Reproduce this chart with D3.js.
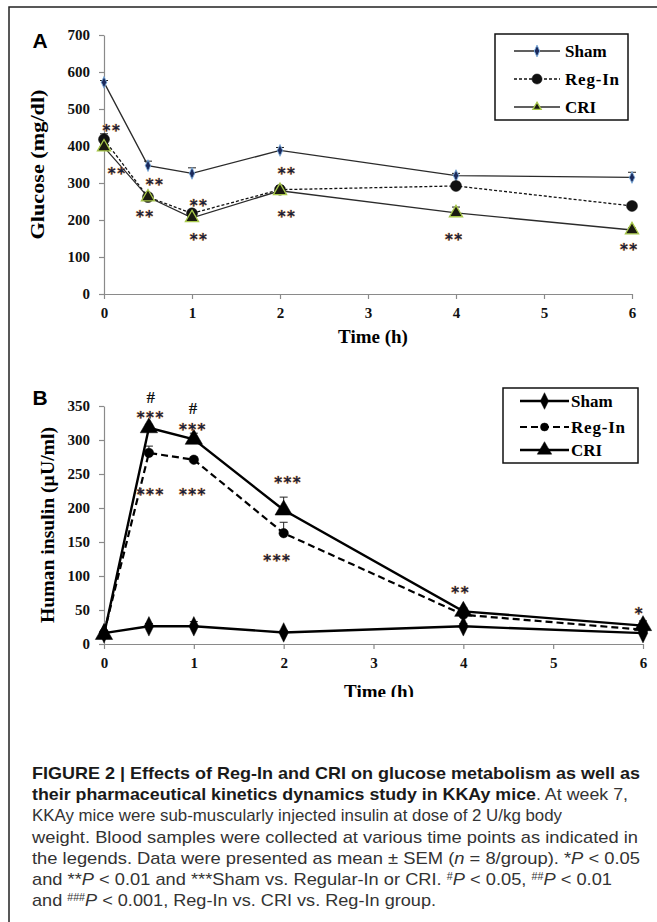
<!DOCTYPE html>
<html>
<head>
<meta charset="utf-8">
<script src="https://cdn.jsdelivr.net/npm/d3@7"></script>
<style>
  body { margin: 0; background: #fff; }
  svg { display: block; }
  .tick text { font-family: "Liberation Serif", "Times New Roman", serif; font-weight: bold; font-size: 15px; fill: #111; }
  .axis path, .axis line { stroke: #8a8a8a; stroke-width: 1.2; }
</style>
</head>
<body>
<svg id="fig"></svg>
<script>
// time points (h)
const times = [0, 0.5, 1, 2, 4, 6];

// panel A: glucose (mg/dl), mean and SEM
const glucoseSham = [572, 347, 326, 388, 320, 315];
const glucoseShamErr = [5, 12, 15, 8, 6, 14];
const glucoseRegIn = [418, 262, 218, 282, 292, 238];
const glucoseRegInErr = [15, 8, 6, 10, 10, 6];
const glucoseCRI = [397, 262, 206, 279, 219, 173];
const glucoseCRIErr = [8, 10, 8, 12, 16, 6];
const glucoseTicks = [0, 100, 200, 300, 400, 500, 600, 700];

// panel B: human insulin (µU/ml), mean and SEM
const insulinSham = [16, 26, 26, 17, 26, 16];
const insulinShamErr = [2, 4, 7, 3, 4, 3];
const insulinRegIn = [16, 281, 271, 163, 43, 21];
const insulinRegInErr = [2, 10, 4, 16, 4, 3];
const insulinCRI = [14, 318, 301, 197, 48, 27];
const insulinCRIErr = [3, 5, 9, 19, 5, 7];
const insulinTicks = [0, 50, 100, 150, 200, 250, 300, 350];

const timeTicks = [0, 1, 2, 3, 4, 5, 6];
const seriesNames = ["Sham", "Reg-In", "CRI"];

// significance marks: [time, value, label]
const glucoseMarks = [
  [0.09, 451, "**"], [0.15, 335, "**"], [0.58, 305, "**"], [0.47, 219, "**"],
  [1.08, 249, "**"], [1.08, 157, "**"], [2.08, 335, "**"], [2.08, 219, "**"],
  [3.98, 157, "**"], [5.97, 130, "**"]
];
const insulinMarks = [
  [0.52, 363, "#"], [0.52, 338, "***"], [0.99, 347, "#"], [0.99, 321, "***"],
  [0.52, 226, "***"], [0.99, 226, "***"], [2.05, 243, "***"], [1.93, 129, "***"],
  [3.97, 82, "**"], [5.96, 51, "*"]
];

// caption lines: [text, style] segments
const captionLines = [
  [["FIGURE 2 | Effects of Reg-In and CRI on glucose metabolism as well as", "b"]],
  [["their pharmaceutical kinetics dynamics study in KKAy mice", "b"], [". At week 7,", "n"]],
  [["KKAy mice were sub-muscularly injected insulin at dose of 2 U/kg body", "n"]],
  [["weight. Blood samples were collected at various time points as indicated in", "n"]],
  [["the legends. Data were presented as mean \u00b1 SEM (", "n"], ["n", "i"], [" = 8/group). ", "n"], ["*", "s"], ["P", "i"], [" < 0.05", "n"]],
  [["and ", "n"], ["**", "s"], ["P", "i"], [" < 0.01 and ", "n"], ["***", "s"], ["Sham vs. Regular-In or CRI. ", "n"], ["#", "h"], ["P", "i"], [" < 0.05, ", "n"], ["##", "h"], ["P", "i"], [" < 0.01", "n"]],
  [["and ", "n"], ["###", "h"], ["P", "i"], [" < 0.001, Reg-In vs. CRI vs. Reg-In group.", "n"]]
];
const captionWidths = [608, 596, 530, 606, 608, 580, 404];

const W = 657, H = 922;
const svg = d3.select("#fig").attr("width", W).attr("height", H);
const serif = '"Liberation Serif", "Times New Roman", serif';

// figure frame (top and left edges only)
svg.append("path")
  .attr("d", `M9,${H} L9,7 L${W},7`)
  .attr("fill", "none").attr("stroke", "#222").attr("stroke-width", 1.5);

function zip(vals, errs) {
  return times.map((t, i) => ({t: t, v: vals[i], e: errs[i]}));
}

function drawPanel(cfg) {
  const g = svg.append("g").attr("transform", `translate(${cfg.left},${cfg.top})`);
  const width = cfg.width, height = cfg.height;

  const x = d3.scaleLinear().domain([0, 6]).range([0, width]);
  const y = d3.scaleLinear().domain([0, cfg.yMax]).range([height, 0]);

  const yAxis = d3.axisLeft(y).tickValues(cfg.yTicks).tickFormat(d3.format("d"))
    .tickSize(5).tickPadding(9).tickSizeOuter(0);
  const xAxis = d3.axisBottom(x).tickValues(timeTicks).tickFormat(d3.format("d"))
    .tickSize(5).tickPadding(8).tickSizeOuter(0);

  g.append("g").attr("class", "axis").call(yAxis);
  g.append("g").attr("class", "axis").attr("transform", `translate(0,${height})`).call(xAxis);
  g.selectAll(".tick text").attr("fill", "#111");

  // panel letter
  g.append("text")
    .attr("x", cfg.letterX - cfg.left).attr("y", cfg.letterY - cfg.top)
    .attr("text-anchor", "middle")
    .style("font-family", '"Liberation Sans", Arial, sans-serif')
    .style("font-weight", "bold").style("font-size", "21px")
    .text(cfg.letter);

  // axis titles
  g.append("text")
    .attr("transform", `translate(${cfg.yLabelX - cfg.left},${height / 2}) rotate(-90)`)
    .attr("text-anchor", "middle").attr("dominant-baseline", "central")
    .attr("textLength", cfg.yLabelLen).attr("lengthAdjust", "spacingAndGlyphs")
    .style("font-family", serif).style("font-weight", "bold").style("font-size", "18px")
    .text(cfg.yLabel);

  const xl = g.append("text")
    .attr("x", cfg.xLabelX - cfg.left).attr("y", cfg.xLabelY - cfg.top)
    .attr("text-anchor", "middle")
    .style("font-family", serif).style("font-weight", "bold").style("font-size", "19px")
    .text("Time (h)");
  if (cfg.clipAt) {
    svg.append("clipPath").attr("id", "clipB")
      .append("rect").attr("x", -cfg.left).attr("y", -cfg.top)
      .attr("width", W).attr("height", cfg.clipAt);
    xl.attr("clip-path", "url(#clipB)");
  }

  const line = d3.line().x(d => x(d.t)).y(d => y(d.v));

  cfg.series.forEach(s => {
    const data = zip(s.vals, s.errs);
    g.append("path").datum(data)
      .attr("d", line).attr("fill", "none")
      .attr("stroke", s.stroke).attr("stroke-width", s.lw)
      .attr("stroke-dasharray", s.dash || null);

    // upward error bars
    const eb = g.append("g");
    eb.selectAll("line.v").data(data).join("line")
      .attr("x1", d => x(d.t)).attr("x2", d => x(d.t))
      .attr("y1", d => y(d.v)).attr("y2", d => y(d.v + d.e))
      .attr("stroke", "#222").attr("stroke-width", 1);
    eb.selectAll("line.c").data(data).join("line")
      .attr("x1", d => x(d.t) - 4).attr("x2", d => x(d.t) + 4)
      .attr("y1", d => y(d.v + d.e)).attr("y2", d => y(d.v + d.e))
      .attr("stroke", "#222").attr("stroke-width", 1);
  });

  cfg.series.forEach(s => {
    const data = zip(s.vals, s.errs);
    g.selectAll(null).data(data).join("path")
      .attr("transform", d => `translate(${x(d.t)},${y(d.v)})${s.sx ? ` scale(${s.sx},1)` : ""}`)
      .attr("d", d3.symbol().type(s.symbol).size(s.size))
      .attr("fill", s.fill).attr("stroke", s.mstroke).attr("stroke-width", s.msw);
  });

  // significance marks
  const isHash = d => d[2].startsWith("#");
  g.selectAll(null).data(cfg.marks).join("text")
    .attr("x", d => x(d[0]))
    .attr("y", d => y(d[1]))
    .attr("text-anchor", "middle")
    .attr("dy", d => isHash(d) ? "0.35em" : "0.62em")
    .style("font-family", d => isHash(d) ? serif : '"DejaVu Sans", sans-serif')
    .style("font-weight", "bold")
    .style("font-size", d => isHash(d) ? "17px" : "15px")
    .style("letter-spacing", d => isHash(d) ? "0px" : "1.5px")
    .style("paint-order", "stroke")
    .attr("fill", d => isHash(d) ? "#111" : "#17203c")
    .attr("stroke", d => isHash(d) ? "none" : "#e6a050")
    .attr("stroke-width", 0.7)
    .text(d => d[2]);

  // legend
  const lg = svg.append("g").attr("transform", `translate(${cfg.legend.x},${cfg.legend.y})`);
  lg.append("rect").attr("width", cfg.legend.w).attr("height", cfg.legend.h)
    .attr("fill", "#fff").attr("stroke", "#111").attr("stroke-width", 1.5);
  cfg.series.forEach((s, i) => {
    const ly = cfg.legend.rowY[i];
    lg.append("line")
      .attr("x1", cfg.legend.lx1).attr("x2", cfg.legend.lx2).attr("y1", ly).attr("y2", ly)
      .attr("stroke", s.stroke).attr("stroke-width", s.lw)
      .attr("stroke-dasharray", s.dash || null);
    lg.append("path")
      .attr("transform", `translate(${(cfg.legend.lx1 + cfg.legend.lx2) / 2},${ly})${s.sx ? ` scale(${s.sx},1)` : ""}`)
      .attr("d", d3.symbol().type(s.symbol).size(s.lsize || s.size))
      .attr("fill", s.fill).attr("stroke", s.mstroke).attr("stroke-width", s.msw);
    lg.append("text")
      .attr("x", cfg.legend.tx).attr("y", ly).attr("dy", "0.35em")
      .style("font-family", serif).style("font-weight", "bold").style("font-size", "17px")
      .style("letter-spacing", i === 1 ? "0.8px" : "0px")
      .text(seriesNames[i]);
  });
}

// Panel A
drawPanel({
  letter: "A", letterX: 40, letterY: 48,
  left: 104, top: 35, width: 528, height: 259,
  yMax: 700, yTicks: glucoseTicks,
  yLabel: "Glucose (mg/dl)", yLabelX: 38, yLabelLen: 150,
  xLabelX: 373, xLabelY: 343,
  marks: glucoseMarks,
  series: [
    {vals: glucoseSham, errs: glucoseShamErr, stroke: "#2b2b2b", lw: 1.3,
     symbol: d3.symbolDiamond, size: 40, sx: 0.8, fill: "#1b2a5c", mstroke: "#7fb0e0", msw: 1},
    {vals: glucoseRegIn, errs: glucoseRegInErr, stroke: "#111", lw: 1.3, dash: "3,2",
     symbol: d3.symbolCircle, size: 95, fill: "#111", mstroke: "#111", msw: 0.5, lsize: 80},
    {vals: glucoseCRI, errs: glucoseCRIErr, stroke: "#2b2b2b", lw: 1.3,
     symbol: d3.symbolTriangle, size: 75, fill: "#1a1a10", mstroke: "#a8c84a", msw: 1.3, lsize: 30}
  ],
  legend: {x: 495, y: 34, w: 133, h: 86, rowY: [17, 45, 73], lx1: 19, lx2: 65, tx: 70}
});

// Panel B
drawPanel({
  letter: "B", letterX: 40, letterY: 405,
  left: 104, top: 406, width: 539, height: 238,
  yMax: 350, yTicks: insulinTicks,
  yLabel: "Human insulin (\u00b5U/ml)", yLabelX: 48, yLabelLen: 196,
  xLabelX: 379, xLabelY: 698, clipAt: 697,
  marks: insulinMarks,
  series: [
    {vals: insulinSham, errs: insulinShamErr, stroke: "#000", lw: 2.4,
     symbol: d3.symbolDiamond, size: 110, sx: 0.85, fill: "#000", mstroke: "#000", msw: 0.5, lsize: 80},
    {vals: insulinRegIn, errs: insulinRegInErr, stroke: "#000", lw: 2.2, dash: "7,4",
     symbol: d3.symbolCircle, size: 70, fill: "#000", mstroke: "#000", msw: 0.5, lsize: 50},
    {vals: insulinCRI, errs: insulinCRIErr, stroke: "#000", lw: 2.4,
     symbol: d3.symbolTriangle, size: 130, fill: "#000", mstroke: "#000", msw: 0.5, lsize: 90}
  ],
  legend: {x: 503, y: 388, w: 135, h: 75, rowY: [13, 39, 62], lx1: 17, lx2: 66, tx: 68}
});

// caption
const cap = svg.append("g");
captionLines.forEach((segs, i) => {
  const t = cap.append("text")
    .attr("x", 32).attr("y", 779 + i * 21.2)
    .attr("textLength", captionWidths[i]).attr("lengthAdjust", "spacingAndGlyphs")
    .style("font-family", '"Liberation Sans Narrow", "Liberation Sans", Arial, sans-serif')
    .style("font-size", "17px").attr("fill", "#333");
  let raised = false;
  segs.forEach(([txt, st]) => {
    const ts = t.append("tspan").text(txt);
    if (raised) { ts.attr("dy", 5); raised = false; }
    if (st === "b") ts.style("font-weight", "bold").attr("fill", "#1a1a1a");
    if (st === "i") ts.style("font-style", "italic");
    if (st === "h") { ts.style("font-size", "10px").attr("dy", -5); raised = true; }
  });
});
</script>
</body>
</html>
